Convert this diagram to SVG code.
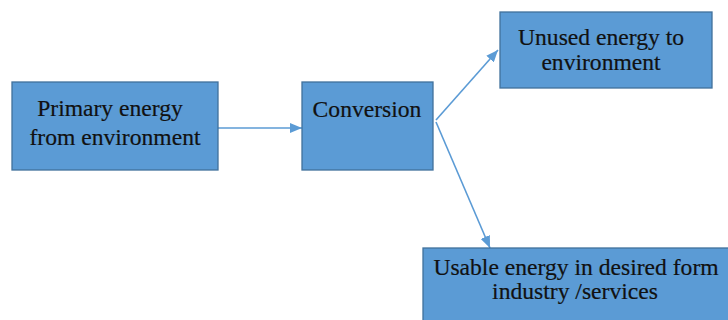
<svg xmlns="http://www.w3.org/2000/svg" width="728" height="320" viewBox="0 0 728 320">
<defs>
<style>
.box{fill:#5b9bd5;stroke:#41719c;stroke-width:1.3}
.t{font-family:"Liberation Serif","DejaVu Serif",serif;font-size:23.6px;fill:#111;text-anchor:middle;stroke:#111;stroke-width:0.2}
.c{stroke:#5b9bd5;stroke-width:1.6;fill:none}
</style>
<marker id="ah" viewBox="0 0 12 10" refX="12" refY="5" markerWidth="12" markerHeight="10" markerUnits="userSpaceOnUse" orient="auto">
<path d="M0,0 L12,5 L0,10 Z" fill="#5b9bd5"/>
</marker>
</defs>
<rect width="728" height="320" fill="#fff"/>
<g id="connectors">
<line class="c" x1="218" y1="128" x2="302" y2="128" marker-end="url(#ah)"/>
<line class="c" x1="436" y1="120" x2="498" y2="50" marker-end="url(#ah)"/>
<line class="c" x1="436" y1="122" x2="490" y2="248" marker-end="url(#ah)"/>
</g>
<g id="primary">
<rect class="box" x="12" y="82" width="206" height="88"/>
<text class="t" x="110" y="116">Primary energy</text>
<text class="t" x="115" y="145">from environment</text>
</g>
<g id="conversion">
<rect class="box" x="302" y="82" width="131" height="88"/>
<text class="t" x="367" y="117">Conversion</text>
</g>
<g id="unused">
<rect class="box" x="500" y="12" width="212" height="76"/>
<text class="t" x="601" y="45">Unused energy to</text>
<text class="t" x="601" y="70">environment</text>
</g>
<g id="usable">
<rect class="box" x="423" y="248" width="310" height="80"/>
<text class="t" x="576" y="275">Usable energy in desired form</text>
<text class="t" x="575" y="299">industry /services</text>
</g>
</svg>
